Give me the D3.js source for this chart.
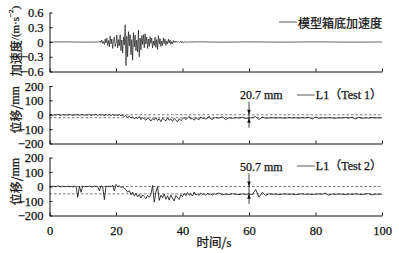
<!DOCTYPE html>
<html><head><meta charset="utf-8">
<script src="https://cdn.jsdelivr.net/npm/d3@7"></script>
<style>
html,body{margin:0;padding:0;background:#fff;}
svg{display:block;}
text{fill:#111;stroke:#111;stroke-width:0.25px;}
</style></head>
<body>
<svg id="c" width="399" height="253"></svg>
<script>
// ---------- data ----------
const xTicks = [0, 20, 40, 60, 80, 100];
const accTicks = [-0.6, -0.3, 0, 0.3, 0.6];
const dispTicks = [-200, -100, 0, 100, 200];

const accLegend = "模型箱底加速度";
const test1Legend = "L1（Test 1）";
const test2Legend = "L1（Test 2）";
const test1Offset = 20.7;   // mm
const test2Offset = 50.7;   // mm

// base acceleration (m/s^2): quiet part before, dense record 15–42 s (0.25 s), quiet part after
const accQuietBefore = [[0, 0], [5, 0.003], [10, -0.003], [14.75, 0]];
const accDenseStart = 15, accDenseStep = 0.25;
const accDense = [
  0.00, 0.02, -0.01, 0.04, -0.03, 0.01, -0.05, 0.06, -0.02, 0.08, -0.07, 0.03,
  -0.10, 0.12, -0.04, 0.06, -0.13, 0.02, 0.10, -0.09, -0.03, 0.14, -0.12, 0.05,
  -0.08, 0.15, -0.18, 0.04, -0.22, 0.10, -0.06, 0.35, -0.48, 0.12, -0.30, 0.21,
  -0.08, 0.15, -0.26, 0.05, -0.37, 0.19, -0.10, 0.14, -0.18, 0.04, -0.20, 0.24,
  -0.30, 0.08, -0.16, 0.13, -0.05, 0.15, -0.12, 0.17, -0.04, 0.10, -0.13, 0.06,
  -0.09, 0.11, -0.03, 0.08, -0.12, 0.02, -0.07, 0.10, -0.11, 0.05, -0.15, 0.13,
  -0.04, 0.07, -0.09, 0.02, -0.07, 0.08, -0.03, 0.06, -0.07, 0.02, -0.04, 0.06,
  -0.02, 0.04, -0.05, 0.01, -0.04, 0.03, -0.01, 0.02, -0.01, 0.01, 0.00, 0.01,
  -0.01, 0.00, 0.02, -0.02, 0.01, -0.01, 0.00, 0.01, -0.01, 0.00, 0.00, 0.00, 0.00
];
const accQuietAfter = [[45, 0.004], [52, -0.004], [60, 0.003], [70, -0.003], [80, 0.003], [90, -0.003], [100, 0]];

// displacement L1 Test 1 (mm): 0–49.5 s every 0.5 s, then 50–100 s every 1 s
const test1Early = [
  -2, 1, -3, 0, -2, 2, -1, -4, 1, -2, 0, -3, 2, -1, -4, 0, -2, 1, -3, -1,
  2, -4, 0, -3, 3, -5, 1, -2, 4, -6, 2, -3, 0, -5, 3, -4, 1, -6, 2, -3,
  -1, -5, 2, -8, -4, -12, -6, -18, -10, -22, -14, -30, -18, -26, -12, -34, -20, -28, -38, -22,
  -30, -44, -26, -36, -20, -40, -28, -48, -24, -34, -42, -22, -38, -30, -46, -26, -36, -50, -28, -40,
  -30, -18, -34, -24, -12, -30, -26, -38, -20, -28, -34, -16, -26, -22, -30, -24, -10, -28, -32, -22
];
const test1Late = [
  -20, -24, -14, -34, -20, -25, -21, -23, -18, -26, -22, -21, -12, -34, -16, -24, -22,
  -20, -23, -21, -22, -24, -20, -22, -21, -23, -20, -22, -18, -30, -16, -24, -21, -23,
  -20, -22, -24, -21, -22, -20, -23, -17, -30, -18, -25, -21, -23, -20, -22, -21, -22
];

// displacement L1 Test 2 (mm)
const test2Early = [
  2, -1, 3, 0, -2, 4, 1, -3, 2, 0, -2, 3, -1, 1, -3, 2, 0, -74, 2, -40,
  3, -2, 1, -1, 2, 0, -2, 3, 0, 2, -30, 4, 1, -90, 3, 0, 2, -3, 10, -30,
  14, -2, 5, -6, -2, -14, -22, -40, -28, -56, -38, -66, -48, -72, -55, -80, -58, -70, -84, -62,
  -74, -56, 7, -108, -40, 0, -96, -60, -78, -52, -88, -64, -94, -58, -80, -100, -62, -76, -90, -58,
  -70, -48, -64, -42, -60, -50, -66, -38, -58, -52, -62, -46, -56, -50, -60, -48, -54, -52, -58, -50
];
const test2Late = [
  -54, -44, -58, -52, -55, -50, -53, -56, -51, -54, -52, -55, -21, -74, -40, -62, -50,
  -54, -52, -55, -53, -51, -54, -52, -56, -53, -51, -54, -52, -55, -53, -51, -54, -46,
  -60, -52, -54, -51, -53, -55, -52, -54, -51, -53, -55, -52, -50, -58, -52, -54, -53
];
const earlyStep = 0.5, lateStart = 50, lateStep = 1;

// ---------- assemble ----------
const accSeries = accQuietBefore
  .concat(accDense.map((v, i) => [accDenseStart + i * accDenseStep, v]))
  .concat(accQuietAfter);
function dispSeries(early, late) {
  return early.map((v, i) => [i * earlyStep, v])
    .concat(late.map((v, i) => [lateStart + i * lateStep, v]));
}
const test1Series = dispSeries(test1Early, test1Late);
const test2Series = dispSeries(test2Early, test2Late);

// ---------- layout ----------
const svg = d3.select("#c");
const serif = "'Liberation Serif','Times New Roman','Noto Sans CJK SC',serif";
const cjk = "'Noto Sans CJK SC','Liberation Serif',sans-serif";
const x = d3.scaleLinear().domain([0, 100]).range([49.5, 382]);

const panels = [
  {top: 12.5, bottom: 71.5, domain: [-0.6, 0.6], ticks: accTicks, data: accSeries,
   fmt: d => d === 0 ? "0" : d3.format(".1f")(d).replace("-", "−"), label: "acc", legend: accLegend, legendY: 22},
  {top: 86, bottom: 143.5, domain: [-200, 200], ticks: dispTicks, data: test1Series,
   fmt: d => String(d).replace("-", "−"), label: "disp", legend: test1Legend, legendY: 95, offset: test1Offset, offsetText: "20.7 mm"},
  {top: 157.5, bottom: 215.5, domain: [-200, 200], ticks: dispTicks, data: test2Series,
   fmt: d => String(d).replace("-", "−"), label: "disp", legend: test2Legend, legendY: 166, offset: test2Offset, offsetText: "50.7 mm", xLabels: true}
];

panels.forEach((p, pi) => {
  const y = d3.scaleLinear().domain(p.domain).range([p.bottom, p.top]);
  const g = svg.append("g");

  // dashed reference lines
  if (p.offset !== undefined) {
    [0, -p.offset].forEach(v => {
      g.append("line").attr("x1", x(0)).attr("x2", x(100))
        .attr("y1", y(v)).attr("y2", y(v))
        .attr("stroke", "#444").attr("stroke-width", 0.7).attr("stroke-dasharray", "2.5,2");
    });
  }

  // series line
  g.append("path").datum(p.data)
    .attr("d", d3.line().x(d => x(d[0])).y(d => y(d[1])))
    .attr("fill", "none").attr("stroke", "#000").attr("stroke-width", pi === 0 ? 0.6 : 0.75);

  // axes
  const ya = g.append("g").attr("transform", `translate(${x(0)},0)`)
    .call(d3.axisLeft(y).tickValues(p.ticks).tickSize(-3).tickSizeOuter(0).tickPadding(6).tickFormat(p.fmt));
  const xa = g.append("g").attr("transform", `translate(0,${p.bottom})`)
    .call(d3.axisBottom(x).tickValues(xTicks).tickSize(-3).tickSizeOuter(0).tickPadding(8)
      .tickFormat(p.xLabels ? d3.format("d") : ""));
  [ya, xa].forEach(a => {
    a.selectAll("path,line").attr("stroke", "#111").attr("stroke-width", 1);
    a.selectAll("text").attr("font-family", serif).attr("font-size", 12.5).attr("fill", "#111");
  });
  xa.selectAll("text").attr("dy", "0.9em");

  // y label
  const cy = p.label === "acc" ? 41 : (p.top + p.bottom) / 2 - 5;
  const t = g.append("text").attr("transform", `translate(15,${cy}) rotate(-90)`)
    .attr("text-anchor", "middle").attr("dominant-baseline", "central")
    .attr("font-family", cjk).attr("font-size", 12);
  if (p.label === "acc") {
    t.append("tspan").text("加速度");
    t.append("tspan").attr("font-family", serif).attr("font-size", 11).text("/(m·s");
    t.append("tspan").attr("font-family", serif).attr("font-size", 7).attr("dy", -4).text("−2");
    t.append("tspan").attr("font-family", serif).attr("font-size", 11).attr("dy", 4).text(")");
  } else {
    t.append("tspan").text("位移/");
    t.append("tspan").attr("font-family", serif).text("mm");
  }

  // legend
  const lt = g.append("text").attr("x", 382).attr("y", p.legendY)
    .attr("text-anchor", "end").attr("dominant-baseline", "central")
    .attr("font-family", p.label === "acc" ? cjk : serif).attr("font-size", 12).text(p.legend);
  const w = lt.node().getComputedTextLength();
  g.append("line").attr("x1", 382 - w - 19).attr("x2", 382 - w - 1)
    .attr("y1", p.legendY).attr("y2", p.legendY).attr("stroke", "#333").attr("stroke-width", 0.8);

  // offset annotation arrow
  if (p.offset !== undefined) {
    const ax = x(60);
    const y0 = y(0), y1 = y(-p.offset);
    g.append("line").attr("x1", ax).attr("x2", ax).attr("y1", y0 - 13).attr("y2", y1 + 10)
      .attr("stroke", "#111").attr("stroke-width", 0.8);
    g.append("path").attr("d", `M${ax - 1.8},${y0 - 5}L${ax + 1.8},${y0 - 5}L${ax},${y0}Z`).attr("fill", "#111");
    g.append("path").attr("d", `M${ax - 1.8},${y1 + 5}L${ax + 1.8},${y1 + 5}L${ax},${y1}Z`).attr("fill", "#111");
    g.append("text").attr("x", ax - 9).attr("y", y0 - 16)
      .attr("font-family", serif).attr("font-size", 12).text(p.offsetText);
  }
});

// x-axis title
svg.append("text").attr("x", 214).attr("y", 247).attr("text-anchor", "middle")
  .attr("font-family", cjk).attr("font-size", 12.5)
  .text("时间/").append("tspan").attr("font-family", serif).text("s");
</script>
</body></html>
